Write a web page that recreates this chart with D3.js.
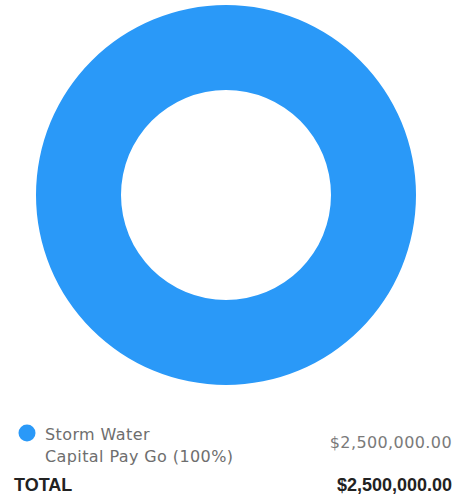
<!DOCTYPE html>
<html><head><meta charset="utf-8">
<script src="https://cdn.jsdelivr.net/npm/d3@7"></script>
<style>body{margin:0;background:#fff}</style>
</head><body>
<svg id="c" width="460" height="497"></svg>
<script>
const categories = ["Storm Water Capital Pay Go"];
const values = [2500000];
const colors = ["#2A99F8"];
const labelLines = [["Storm Water", "Capital Pay Go (100%)"]];
const totalLabel = "TOTAL";

const svg = d3.select("#c");
const fmt = v => "$" + d3.format(",.2f")(v);
const total = d3.sum(values);

const pie = d3.pie().sort(null).value(d => d);
const arc = d3.arc().innerRadius(105).outerRadius(190);
const g = svg.append("g").attr("transform", "translate(226,195)");
g.selectAll("path").data(pie(values)).join("path")
  .attr("d", arc).attr("fill", (d, i) => colors[i]);

const font = "'DejaVu Sans', sans-serif";
categories.forEach((c, i) => {
  const y0 = 433 + i * 40;
  svg.append("circle").attr("cx", 27).attr("cy", y0).attr("r", 8.5).attr("fill", colors[i]);
  labelLines[i].forEach((t, j) => {
    svg.append("text").attr("x", 45).attr("y", y0 + 7 + j * 22)
      .attr("font-family", font).attr("font-size", 16).attr("letter-spacing", 0.4)
      .attr("fill", "#6e6e6e").text(t);
  });
  svg.append("text").attr("x", 452).attr("y", y0 + 15).attr("text-anchor", "end")
    .attr("font-family", font).attr("font-size", 16).attr("letter-spacing", 0.4)
    .attr("fill", "#7a7a7a").text(fmt(values[i]));
});
svg.append("text").attr("x", 14).attr("y", 491)
  .attr("font-family", "'Liberation Sans', Arial, sans-serif").attr("font-weight", "bold")
  .attr("font-size", 18).attr("fill", "#222").text(totalLabel);
svg.append("text").attr("x", 452).attr("y", 491).attr("text-anchor", "end")
  .attr("font-family", "'Liberation Sans', Arial, sans-serif").attr("font-weight", "bold")
  .attr("font-size", 18).attr("fill", "#222").text(fmt(total));
</script>
</body></html>
